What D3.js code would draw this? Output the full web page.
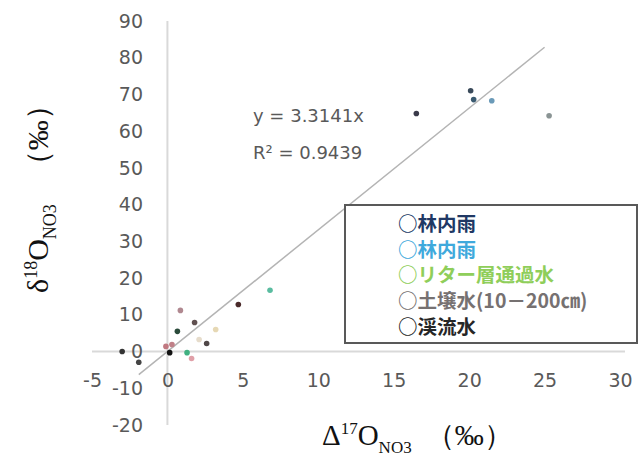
<!DOCTYPE html>
<html lang="ja">
<head>
<meta charset="utf-8">
<style>
  body { margin: 0; background: #fff; }
  svg { display: block; }
  .tick text { font-family: "DejaVu Sans", sans-serif; font-size: 19px; fill: #595959; }
  .serif { font-family: "Liberation Serif", "Times New Roman", serif; fill: #111; }
</style>
</head>
<body>
<svg id="chart" width="638" height="456"></svg>
<script src="https://d3js.org/d3.v7.min.js"></script>
<script>
// data
var xTicks = [-5, 0, 5, 10, 15, 20, 25, 30];
var yTicks = [-20, -10, 0, 10, 20, 30, 40, 50, 60, 70, 80, 90];

var seriesNames = ["林内雨", "林内雨", "リター層通過水", "土壌水(10－200㎝)", "渓流水"];
var rainA   = [[16.5, 64.8], [20.1, 71.0]];
var rainB   = [[20.3, 68.6], [21.5, 68.3], [25.3, 64.2]];
var litter  = [[6.8, 16.7], [1.3, -0.3], [0.66, 5.5]];
var soil    = [[0.86, 11.2], [1.8, 7.9], [3.2, 6.0], [2.1, 3.3], [2.6, 2.2],
               [-0.1, 1.4], [0.3, 1.9], [1.6, -1.9], [4.7, 12.8]];
var stream  = [[0.15, -0.3], [-3.0, 0.0], [-1.9, -2.9]];
var slope = 3.3141, r2 = 0.9439;
var trendRange = [-1.9, 25.0];

// colours
var legendColors = ["#203864", "#3fa9dc", "#8fce5a", "#767171", "#262626"];
var pointColors = [
  ["#3a3a4a", "#3a4a5a"],
  ["#3a5a70", "#6a9ab8", "#8a9494"],
  ["#5abca0", "#40b080", "#2a4a3a"],
  ["#b08890", "#605050", "#e6d8b4", "#e6dccb", "#504848", "#c07880", "#c08088", "#e0a0a8", "#4a2a2a"],
  ["#111111", "#333333", "#444444"]
];
var allSeries = [rainA, rainB, litter, soil, stream];

var svg = d3.select("#chart");

var x = d3.scaleLinear().domain([-5, 30]).range([92, 620]);
var y = d3.scaleLinear().domain([-20, 90]).range([425, 21]);
var plain = function(d) { return String(d); };

// cross-shaped axis lines through the origin
svg.append("line")
    .attr("x1", x(0)).attr("x2", x(0))
    .attr("y1", y(90)).attr("y2", y(-20))
    .attr("stroke", "#d9d9d9").attr("stroke-width", 2);
svg.append("line")
    .attr("x1", x(-5)).attr("x2", 625)
    .attr("y1", y(0)).attr("y2", y(0))
    .attr("stroke", "#d9d9d9").attr("stroke-width", 2);

// tick labels
var yAxis = svg.append("g")
    .attr("transform", "translate(146,0)")
    .call(d3.axisLeft(y).tickValues(yTicks).tickFormat(plain).tickSize(0).tickPadding(3));
yAxis.select(".domain").remove();

var xAxis = svg.append("g")
    .attr("transform", "translate(0,373)")
    .call(d3.axisBottom(x).tickValues(xTicks).tickFormat(plain).tickSize(0).tickPadding(0));
xAxis.select(".domain").remove();

// trendline
svg.append("line")
    .attr("x1", x(trendRange[0])).attr("y1", y(slope * trendRange[0]))
    .attr("x2", x(trendRange[1])).attr("y2", y(slope * trendRange[1]))
    .attr("stroke", "#b4b4b4").attr("stroke-width", 1.5);

// points
allSeries.forEach(function(pts, i) {
  svg.append("g").selectAll("circle")
    .data(pts)
    .enter().append("circle")
      .attr("cx", function(d) { return x(d[0]); })
      .attr("cy", function(d) { return y(d[1]); })
      .attr("r", 2.8)
      .attr("fill", function(d, j) { return pointColors[i][j]; });
});

// equation
var eq = svg.append("g")
    .style("font-family", "DejaVu Sans, sans-serif")
    .style("font-size", "18px")
    .style("fill", "#595959");
eq.append("text").attr("x", 253).attr("y", 122).text("y = " + slope + "x");
eq.append("text").attr("x", 253).attr("y", 159).text("R² = " + r2);

// legend
var legend = svg.append("g");
legend.append("rect")
    .attr("x", 345).attr("y", 205).attr("width", 292).attr("height", 138)
    .attr("fill", "#fff").attr("stroke", "#595959").attr("stroke-width", 2);
legend.selectAll("text")
    .data(seriesNames)
    .enter().append("text")
      .attr("x", 398)
      .attr("y", function(d, i) { return 231 + i * 25.7; })
      .style("font-family", "Noto Sans CJK JP, sans-serif")
      .style("font-size", "19.5px")
      .style("font-weight", "bold")
      .style("fill", function(d, i) { return legendColors[i]; })
      .text(function(d) { return "○" + d; });

// axis titles
var xt = svg.append("text").attr("class", "serif")
    .attr("x", 322).attr("y", 445)
    .style("font-size", "29px");
xt.append("tspan").text("Δ");
xt.append("tspan").attr("dy", -11).style("font-size", "17px").text("17");
xt.append("tspan").attr("dy", 11).text("O");
xt.append("tspan").attr("dy", 8).style("font-size", "17px").text("NO3");
xt.append("tspan").attr("dy", -8).attr("dx", 14).text("（‰）");

var yt = svg.append("text").attr("class", "serif")
    .attr("transform", "translate(48,293) rotate(-90)")
    .style("font-size", "30px");
yt.append("tspan").text("δ");
yt.append("tspan").attr("dy", -11).style("font-size", "18px").text("18");
yt.append("tspan").attr("dy", 11).text("O");
yt.append("tspan").attr("dy", 8).style("font-size", "18px").text("NO3");
yt.append("tspan").attr("dy", -8).attr("dx", 24).text("（‰）");
</script>
</body>
</html>
